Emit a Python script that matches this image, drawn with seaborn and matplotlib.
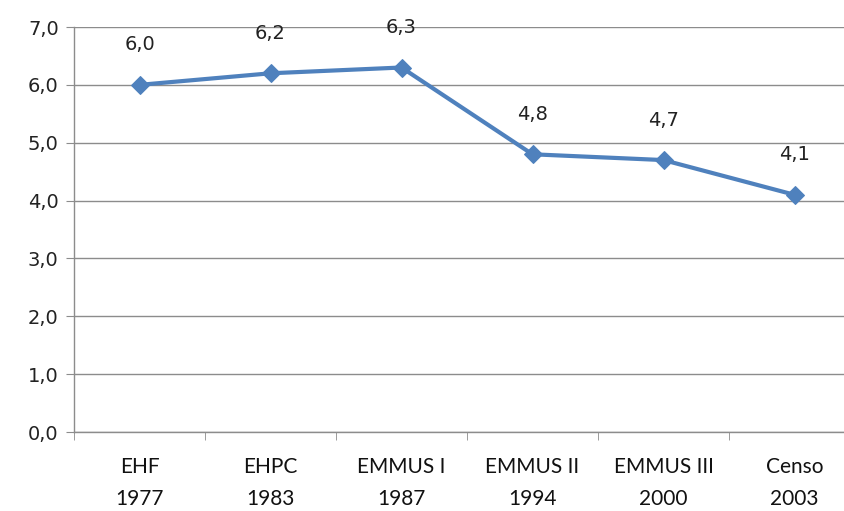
import pandas as pd
import numpy as np
import matplotlib.pyplot as plt
import seaborn as sns

# survey names, years and values
surveys = ['EHF', 'EHPC', 'EMMUS I', 'EMMUS II', 'EMMUS III', 'Censo']
years = ['1977', '1983', '1987', '1994', '2000', '2003']
values = [6.0, 6.2, 6.3, 4.8, 4.7, 4.1]

df = pd.DataFrame({'pos': range(len(surveys)), 'value': values})

sns.set_style('white')
plt.rcParams['font.family'] = ['DejaVu Sans']

fig = plt.figure(figsize=(8.44, 5.11), dpi=100)
ax = fig.add_axes([74 / 844, 1 - 432 / 511, 786 / 844, 405 / 511])

sns.lineplot(data=df, x='pos', y='value', ax=ax, color='#4F81BD', linewidth=3,
             marker='D', markersize=9, markeredgecolor='#4F81BD')

for i, v in enumerate(values):
    ax.annotate(f'{v:.1f}'.replace('.', ','), (i, v), xytext=(0, 22),
                textcoords='offset points', ha='center', va='bottom',
                fontsize=14, color='#222222')

ax.set_xlim(-0.5, len(surveys) - 0.5)
ax.set_ylim(0, 7)
ax.set_yticks(np.arange(0, 8, 1))
ax.set_yticklabels([f'{t:.1f}'.replace('.', ',') for t in np.arange(0, 8, 1)],
                   fontsize=14, color='#222222')
ax.grid(axis='y', color='#8c8c8c', linewidth=1)
ax.set_axisbelow(True)

ax.set_xticks(range(len(surveys)))
ax.set_xticklabels([f'{s}\n{y}' for s, y in zip(surveys, years)],
                   fontsize=15, color='#111111', family='Lato', linespacing=1.75)
ax.set_xticks(np.arange(-0.5, len(surveys)), minor=True)
ax.tick_params(axis='x', which='major', length=0, pad=18)
ax.tick_params(axis='x', which='minor', length=6, color='#8c8c8c', direction='out', bottom=True)
ax.tick_params(axis='y', length=6, color='#8c8c8c', direction='out', left=True, pad=5)

for side in ['top', 'right']:
    ax.spines[side].set_visible(False)
for side in ['left', 'bottom']:
    ax.spines[side].set_color('#8c8c8c')
    ax.spines[side].set_linewidth(1)

ax.set_xlabel('')
ax.set_ylabel('')

fig.savefig('out.png', dpi=100)
